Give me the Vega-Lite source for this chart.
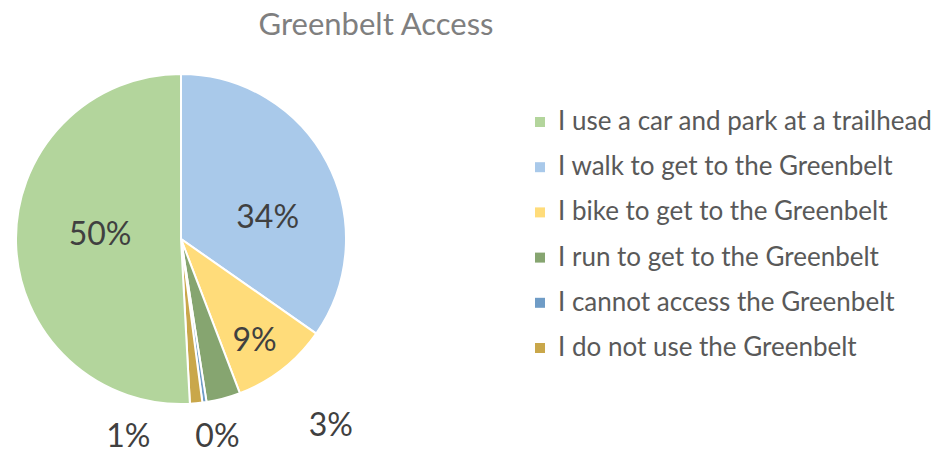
{
  "$schema": "https://vega.github.io/schema/vega-lite/v6.json",
  "autosize": "none",
  "width": 362,
  "height": 330,
  "padding": {"left": 0, "top": 74, "right": 573, "bottom": 50},
  "background": "white",
  "title": {
    "text": "Greenbelt Access",
    "font": "Lato",
    "fontSize": 31,
    "fontWeight": "normal",
    "color": "#7f7f7f",
    "anchor": "middle",
    "dx": 195,
    "offset": 28
  },
  "data": {
    "values": [
      {"cat": "I walk to get to the Greenbelt", "value": 0.344, "ord": 1},
      {"cat": "I bike to get to the Greenbelt", "value": 0.094, "ord": 2},
      {"cat": "I run to get to the Greenbelt", "value": 0.033, "ord": 3},
      {"cat": "I cannot access the Greenbelt", "value": 0.004, "ord": 4},
      {"cat": "I do not use the Greenbelt", "value": 0.012, "ord": 5},
      {"cat": "I use a car and park at a trailhead", "value": 0.504, "ord": 6}
    ]
  },
  "encoding": {
    "theta": {"field": "value", "type": "quantitative", "stack": true},
    "order": {"field": "ord", "type": "quantitative"}
  },
  "layer": [
    {
      "mark": {"type": "arc", "outerRadius": 165, "stroke": "white", "strokeWidth": 2},
      "encoding": {
        "color": {
          "field": "cat",
          "type": "nominal",
          "scale": {
            "domain": ["I use a car and park at a trailhead", "I walk to get to the Greenbelt", "I bike to get to the Greenbelt", "I run to get to the Greenbelt", "I cannot access the Greenbelt", "I do not use the Greenbelt"],
            "range": ["#b3d59c", "#a9c9ea", "#ffdc7a", "#86a570", "#6f9cc6", "#c9a74a"]
          },
          "legend": {
            "title": null,
            "orient": "none",
            "legendX": 527,
            "legendY": 35,
            "padding": 0,
            "symbolType": "square",
            "symbolSize": 100,
            "symbolStrokeWidth": 0,
            "labelFont": "Lato",
            "labelFontSize": 26,
            "labelColor": "#595959",
            "labelOffset": 5,
            "labelLimit": 500,
            "rowPadding": 19.2
          }
        }
      }
    },
    {
      "mark": {"type": "text", "radius": 81, "dy": -6, "font": "Lato", "fontSize": 32, "color": "#404040", "baseline": "middle"},
      "encoding": {
        "detail": {"field": "cat", "type": "nominal"},
        "text": {"condition": {"test": "datum.ord === 6", "field": "value", "type": "quantitative", "format": ".0%"}, "value": ""}
      }
    },
    {
      "mark": {"type": "text", "radius": 100, "dx": -2, "dy": 25, "font": "Lato", "fontSize": 32, "color": "#404040", "baseline": "middle"},
      "encoding": {
        "detail": {"field": "cat", "type": "nominal"},
        "text": {"condition": {"test": "datum.ord === 1", "field": "value", "type": "quantitative", "format": ".0%"}, "value": ""}
      }
    },
    {
      "mark": {"type": "text", "radius": 126, "dx": -4, "dy": 3, "font": "Lato", "fontSize": 32, "color": "#404040", "baseline": "middle"},
      "encoding": {
        "detail": {"field": "cat", "type": "nominal"},
        "text": {"condition": {"test": "datum.ord === 2", "field": "value", "type": "quantitative", "format": ".0%"}, "value": ""}
      }
    },
    {
      "mark": {"type": "text", "radius": 190, "dx": 101, "dy": 3, "font": "Lato", "fontSize": 32, "color": "#404040", "baseline": "middle"},
      "encoding": {
        "detail": {"field": "cat", "type": "nominal"},
        "text": {"condition": {"test": "datum.ord === 3", "field": "value", "type": "quantitative", "format": ".0%"}, "value": ""}
      }
    },
    {
      "mark": {"type": "text", "radius": 200, "dx": 8, "dy": 0, "font": "Lato", "fontSize": 32, "color": "#404040", "baseline": "middle"},
      "encoding": {
        "detail": {"field": "cat", "type": "nominal"},
        "text": {"condition": {"test": "datum.ord === 4", "field": "value", "type": "quantitative", "format": ".0%"}, "value": ""}
      }
    },
    {
      "mark": {"type": "text", "radius": 200, "dx": -71, "dy": -1, "font": "Lato", "fontSize": 32, "color": "#404040", "baseline": "middle"},
      "encoding": {
        "detail": {"field": "cat", "type": "nominal"},
        "text": {"condition": {"test": "datum.ord === 5", "field": "value", "type": "quantitative", "format": ".0%"}, "value": ""}
      }
    }
  ]
}
